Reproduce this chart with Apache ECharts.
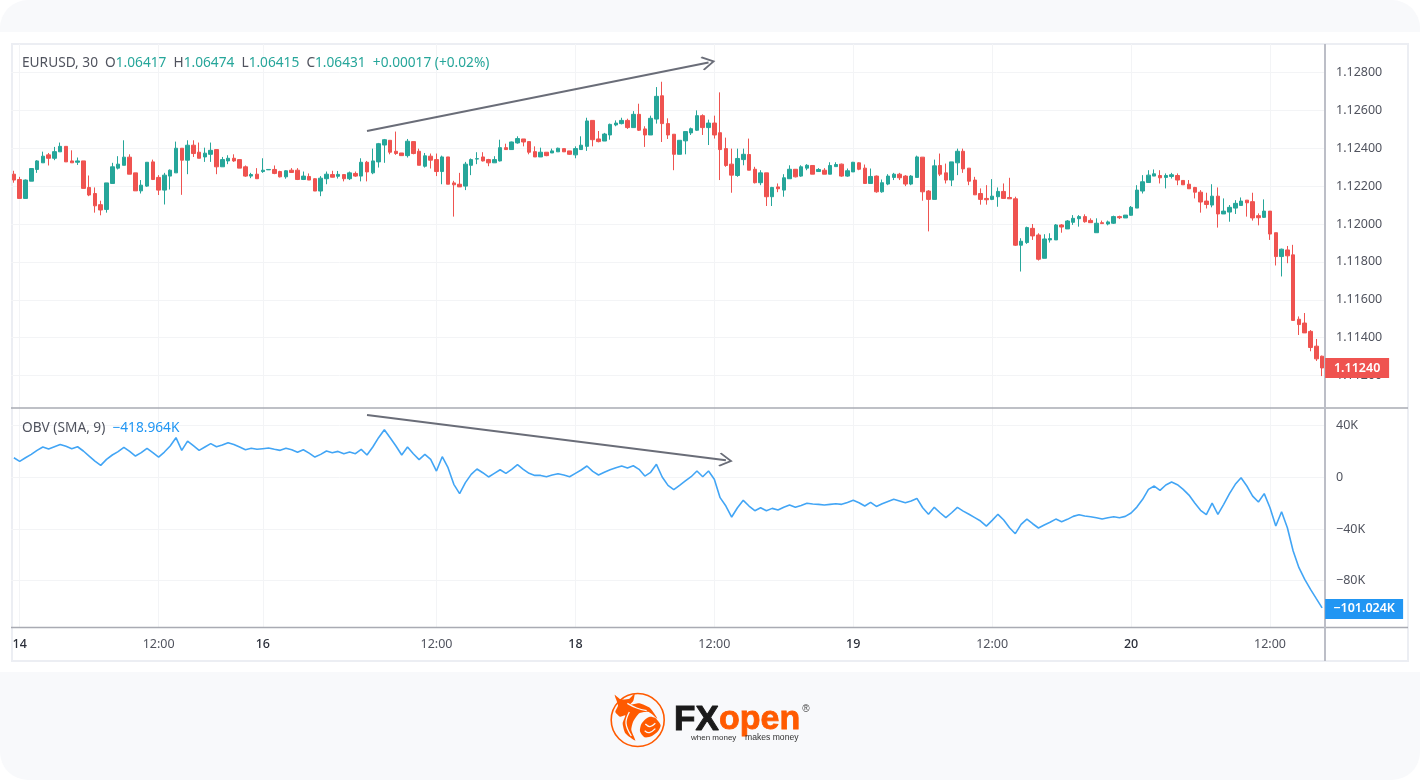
<!DOCTYPE html>
<html><head><meta charset="utf-8">
<style>html,body{margin:0;padding:0;background:#fff}#c{width:1420px;height:780px}</style>
<script src="https://cdn.jsdelivr.net/npm/echarts@6/dist/echarts.min.js"></script>
</head><body><div id="c"></div>
<script>
const tickPositions=[1,25,43,73,97,121,145,169,193,217];
const tickLabels=['14','12:00','16','12:00','18','12:00','19','12:00','20','12:00'];
const open=[1.12263,1.12235,1.12135,1.12226,1.12288,1.12323,1.12365,1.12347,1.12381,1.12410,
1.12333,1.12326,1.12333,1.12193,1.12161,1.12102,1.12077,1.12214,1.12295,1.12310,
1.12353,1.12270,1.12175,1.12200,1.12328,1.12246,1.12179,1.12253,1.12270,1.12400,
1.12337,1.12416,1.12379,1.12354,1.12368,1.12393,1.12302,1.12333,1.12347,1.12340,
1.12302,1.12253,1.12263,1.12277,1.12286,1.12288,1.12277,1.12249,1.12284,1.12284,
1.12235,1.12251,1.12239,1.12174,1.12239,1.12261,1.12252,1.12261,1.12239,1.12267,
1.12253,1.12326,1.12270,1.12328,1.12417,1.12442,1.12384,1.12375,1.12361,1.12435,
1.12384,1.12305,1.12358,1.12340,1.12277,1.12354,1.12217,1.12210,1.12200,1.12310,
1.12343,1.12354,1.12340,1.12323,1.12333,1.12403,1.12393,1.12428,1.12449,1.12435,
1.12382,1.12354,1.12379,1.12375,1.12381,1.12398,1.12386,1.12365,1.12393,1.12410,
1.12547,1.12449,1.12438,1.12470,1.12523,1.12530,1.12547,1.12509,1.12579,1.12502,
1.12470,1.12554,1.12677,1.12530,1.12474,1.12368,1.12439,1.12481,1.12495,1.12572,
1.12509,1.12533,1.12482,1.12398,1.12316,1.12256,1.12340,1.12367,1.12289,1.12218,
1.12270,1.12144,1.12196,1.12179,1.12239,1.12289,1.12253,1.12295,1.12309,1.12277,
1.12284,1.12263,1.12303,1.12316,1.12253,1.12275,1.12323,1.12295,1.12214,1.12253,
1.12170,1.12211,1.12246,1.12263,1.12253,1.12211,1.12246,1.12353,1.12174,1.12130,
1.12309,1.12270,1.12232,1.12323,1.12384,1.12295,1.12232,1.12161,1.12135,1.12130,
1.12144,1.12172,1.12140,1.12133,1.11888,1.11902,1.11977,1.11942,1.11819,1.11916,
1.11916,1.11995,1.11974,1.12009,1.12028,1.12039,1.12019,1.11954,1.12007,1.12000,
1.12004,1.12039,1.12032,1.12046,1.12084,1.12174,1.12219,1.12253,1.12256,1.12246,
1.12251,1.12256,1.12230,1.12210,1.12193,1.12168,1.12121,1.12100,1.12147,1.12053,
1.12063,1.12084,1.12098,1.12126,1.12118,1.12044,1.12035,1.12068,1.11954,1.11828,
1.11863,1.11837,1.11497,1.11477,1.11433,1.11355,1.11302];
const high=[1.12281,1.12249,1.12235,1.12293,1.12337,1.12382,1.12375,1.12407,1.12430,1.12410,
1.12389,1.12351,1.12333,1.12256,1.12193,1.12123,1.12217,1.12323,1.12358,1.12442,
1.12368,1.12270,1.12232,1.12326,1.12340,1.12258,1.12270,1.12288,1.12435,1.12400,
1.12442,1.12442,1.12430,1.12403,1.12430,1.12393,1.12354,1.12363,1.12368,1.12340,
1.12309,1.12270,1.12295,1.12347,1.12288,1.12309,1.12281,1.12284,1.12295,1.12295,
1.12277,1.12267,1.12242,1.12253,1.12277,1.12281,1.12280,1.12263,1.12277,1.12277,
1.12347,1.12333,1.12398,1.12428,1.12449,1.12442,1.12488,1.12375,1.12449,1.12435,
1.12398,1.12375,1.12372,1.12372,1.12361,1.12354,1.12228,1.12270,1.12328,1.12346,
1.12379,1.12379,1.12344,1.12358,1.12445,1.12424,1.12435,1.12463,1.12449,1.12435,
1.12410,1.12403,1.12379,1.12398,1.12403,1.12398,1.12386,1.12410,1.12463,1.12561,
1.12547,1.12491,1.12481,1.12530,1.12547,1.12561,1.12556,1.12596,1.12635,1.12516,
1.12572,1.12723,1.12751,1.12558,1.12474,1.12442,1.12488,1.12509,1.12600,1.12579,
1.12551,1.12572,1.12695,1.12456,1.12398,1.12398,1.12398,1.12451,1.12302,1.12284,
1.12270,1.12196,1.12214,1.12263,1.12310,1.12289,1.12310,1.12316,1.12309,1.12295,
1.12295,1.12326,1.12326,1.12319,1.12293,1.12328,1.12326,1.12314,1.12293,1.12256,
1.12235,1.12263,1.12270,1.12270,1.12258,1.12258,1.12361,1.12353,1.12179,1.12340,
1.12372,1.12319,1.12328,1.12398,1.12398,1.12295,1.12249,1.12188,1.12205,1.12237,
1.12193,1.12214,1.12244,1.12144,1.11925,1.11986,1.12000,1.11951,1.11946,1.11951,
1.12000,1.12000,1.12021,1.12047,1.12047,1.12051,1.12030,1.12030,1.12018,1.12018,
1.12044,1.12044,1.12047,1.12095,1.12205,1.12258,1.12284,1.12288,1.12284,1.12267,
1.12270,1.12267,1.12230,1.12232,1.12196,1.12179,1.12165,1.12210,1.12193,1.12135,
1.12100,1.12126,1.12140,1.12126,1.12165,1.12056,1.12130,1.12068,1.11954,1.11870,
1.11884,1.11890,1.11512,1.11530,1.11440,1.11393,1.11305];
const low=[1.12218,1.12135,1.12135,1.12226,1.12270,1.12323,1.12309,1.12337,1.12381,1.12328,
1.12323,1.12312,1.12188,1.12147,1.12060,1.12046,1.12060,1.12214,1.12288,1.12310,
1.12263,1.12175,1.12161,1.12196,1.12232,1.12153,1.12103,1.12182,1.12270,1.12154,
1.12263,1.12354,1.12347,1.12328,1.12328,1.12263,1.12302,1.12316,1.12328,1.12295,
1.12249,1.12242,1.12239,1.12270,1.12286,1.12263,1.12246,1.12239,1.12270,1.12232,
1.12232,1.12232,1.12174,1.12147,1.12210,1.12246,1.12240,1.12225,1.12232,1.12249,
1.12225,1.12225,1.12263,1.12298,1.12323,1.12368,1.12365,1.12361,1.12351,1.12368,
1.12310,1.12298,1.12293,1.12253,1.12210,1.12210,1.12039,1.12196,1.12179,1.12258,
1.12316,1.12330,1.12305,1.12323,1.12330,1.12393,1.12393,1.12424,1.12410,1.12368,
1.12354,1.12354,1.12358,1.12375,1.12381,1.12381,1.12365,1.12347,1.12393,1.12386,
1.12410,1.12431,1.12438,1.12445,1.12516,1.12526,1.12502,1.12509,1.12491,1.12407,
1.12470,1.12530,1.12433,1.12449,1.12284,1.12368,1.12368,1.12470,1.12491,1.12470,
1.12417,1.12451,1.12232,1.12302,1.12165,1.12249,1.12310,1.12284,1.12214,1.12205,
1.12095,1.12095,1.12168,1.12144,1.12239,1.12246,1.12249,1.12284,1.12263,1.12277,
1.12263,1.12263,1.12302,1.12249,1.12249,1.12275,1.12284,1.12214,1.12214,1.12165,
1.12165,1.12205,1.12232,1.12232,1.12200,1.12205,1.12246,1.12123,1.11961,1.12130,
1.12253,1.12214,1.12200,1.12258,1.12270,1.12205,1.12154,1.12102,1.12102,1.12126,
1.12091,1.12135,1.12133,1.11884,1.11749,1.11895,1.11916,1.11807,1.11819,1.11902,
1.11916,1.11954,1.11974,1.11995,1.11986,1.12007,1.12007,1.11954,1.12002,1.11993,
1.12000,1.12026,1.12032,1.12044,1.12084,1.12161,1.12219,1.12253,1.12214,1.12188,
1.12240,1.12205,1.12207,1.12186,1.12135,1.12060,1.12082,1.12088,1.11981,1.12053,
1.12012,1.12053,1.12098,1.12039,1.12018,1.11993,1.12032,1.11916,1.11781,1.11723,
1.11793,1.11491,1.11414,1.11425,1.11328,1.11277,1.11197];
const close=[1.12232,1.12135,1.12232,1.12293,1.12333,1.12358,1.12347,1.12382,1.12410,1.12328,
1.12323,1.12333,1.12188,1.12153,1.12096,1.12074,1.12217,1.12302,1.12316,1.12353,
1.12263,1.12175,1.12205,1.12326,1.12235,1.12179,1.12258,1.12284,1.12400,1.12337,
1.12416,1.12372,1.12347,1.12374,1.12389,1.12302,1.12340,1.12347,1.12333,1.12295,
1.12253,1.12261,1.12239,1.12284,1.12288,1.12267,1.12249,1.12281,1.12272,1.12235,
1.12253,1.12232,1.12174,1.12242,1.12263,1.12247,1.12262,1.12239,1.12270,1.12253,
1.12326,1.12275,1.12333,1.12424,1.12445,1.12379,1.12372,1.12361,1.12437,1.12372,
1.12310,1.12360,1.12337,1.12277,1.12354,1.12210,1.12207,1.12196,1.12316,1.12340,
1.12345,1.12333,1.12323,1.12340,1.12403,1.12393,1.12433,1.12451,1.12433,1.12379,
1.12354,1.12379,1.12361,1.12386,1.12400,1.12381,1.12368,1.12398,1.12416,1.12544,
1.12445,1.12435,1.12475,1.12526,1.12533,1.12547,1.12509,1.12579,1.12495,1.12470,
1.12558,1.12674,1.12530,1.12470,1.12368,1.12442,1.12488,1.12503,1.12572,1.12509,
1.12533,1.12470,1.12393,1.12309,1.12258,1.12346,1.12368,1.12284,1.12218,1.12270,
1.12144,1.12193,1.12186,1.12244,1.12289,1.12249,1.12302,1.12310,1.12263,1.12288,
1.12263,1.12309,1.12314,1.12253,1.12281,1.12326,1.12289,1.12214,1.12251,1.12170,
1.12218,1.12253,1.12263,1.12244,1.12211,1.12253,1.12354,1.12170,1.12130,1.12307,
1.12263,1.12232,1.12328,1.12384,1.12291,1.12226,1.12154,1.12130,1.12128,1.12147,
1.12172,1.12135,1.12133,1.11888,1.11909,1.11981,1.11937,1.11814,1.11921,1.11923,
1.11995,1.11984,1.12016,1.12030,1.12039,1.12012,1.12007,1.12004,1.12002,1.12011,
1.12039,1.12033,1.12047,1.12088,1.12179,1.12223,1.12258,1.12265,1.12244,1.12256,
1.12260,1.12232,1.12207,1.12186,1.12168,1.12116,1.12103,1.12147,1.12053,1.12068,
1.12088,1.12109,1.12121,1.12112,1.12032,1.12033,1.12068,1.11947,1.11828,1.11867,
1.11832,1.11491,1.11469,1.11425,1.11348,1.11288,1.11240];
const obv=[15.2,12.4,15.2,17.8,20.9,23.5,21.9,23.7,25.5,24,22.2,23.7,20.4,16.5,12.6,9.3,13.9,17.3,19.9,23.2,
20.1,16.5,19.1,22.5,19.1,15.7,19.6,24.3,30.7,20.9,28.1,24.5,20.9,23.5,26.1,23.7,25,26.8,25.5,23.5,
21.4,22.5,21.7,22.2,22.7,21.7,20.9,22.5,21.4,19.4,21.4,18.8,15.7,17.8,20.4,19.1,20.1,18.3,19.6,18.3,
21.7,17.3,23.5,30.7,36.9,30.7,24.3,17.3,23.5,18.3,13.7,17.8,13.9,4.9,16,7.5,-5.4,-12.6,-4.1,2.3,
6.5,3.6,0.3,3.1,5.9,3.1,6.2,9.8,6.2,3.1,1.5,1.5,0.5,1.8,2.8,1.8,0.5,3.1,5.7,8.8,
4.6,1.8,3.9,5.9,7.5,8.8,7.2,9,6.2,1,3.9,10.1,0.3,-6.2,-9.5,-6.2,-2.8,0.5,4.9,0.5,
4.9,-1.5,-15.7,-22.2,-30.7,-23.5,-17.8,-22.2,-25.8,-23.5,-25.8,-24,-25.3,-23.2,-21.4,-23.2,-21.7,-20.1,-20.6,-20.9,
-21.4,-20.9,-20.4,-20.9,-19.4,-17.8,-19.6,-22.2,-19.4,-22.5,-20.4,-18.6,-17,-18.3,-19.6,-18.3,-16.3,-23.5,-28.6,-23.2,
-27.4,-31.2,-27.4,-23.2,-26.1,-28.6,-31.2,-33.8,-37.7,-33.3,-28.6,-33,-39,-43.6,-36.4,-32.3,-35.9,-39.2,-36.9,-34.8,
-32.3,-34.3,-32.5,-30.2,-28.9,-29.9,-30.5,-31.2,-32.3,-31.2,-30.5,-31.2,-30.2,-27.6,-23,-17,-9.3,-6.7,-10.1,-5.9,
-3.6,-5.7,-9.3,-13.7,-19.9,-25.5,-28.9,-19.9,-28.6,-20.9,-12.6,-5.4,-0.3,-6.7,-14.5,-19.1,-12.6,-23.5,-37.7,-26.6,
-39,-57,-69.9,-79,-86.7,-93.9,-101.024];
const lastPrice=1.1124, lastObv=-101.024;
const priceArrow=[[61,1.12491],[120,1.12853]];
const obvArrow=[[61,48.3],[123,13.2]];

const font='"Noto Sans",sans-serif';
const GREEN='#26a69a',RED='#ef5350',BLUE='#42a5f5',GRID='#f3f4f6',TXT='#50535e',ARROW='#6a6d78';
const categories=close.map((_,i)=>{const k=tickPositions.indexOf(i);return k>=0?tickLabels[k]:String(i)});
const isTick=i=>tickPositions.includes(i);
const candle=open.map((o,i)=>[o,close[i],low[i],high[i]]);
const chev='path://M0,10 L10,0 L20,10 L18.4,11.4 L10,3 L1.6,11.4 Z';
function arrow(a){return {silent:true,symbol:['none',chev],symbolSize:14,label:{show:false},
  lineStyle:{color:ARROW,width:2,type:'solid'},animation:false,
  data:[[{coord:a[0]},{coord:a[1]}]]}}
function badge(c,off,w,text,color){return {silent:true,animation:false,data:[{coord:c,symbol:'rect',symbolSize:[w,20],symbolOffset:off,
  itemStyle:{color},label:{show:true,formatter:text,color:'#fff',fontSize:12.5,fontWeight:600,fontFamily:font}}]}}
const hideX={show:false};
const xBase={type:'category',data:categories,boundaryGap:true};
const chart=echarts.init(document.getElementById('c'),null,{renderer:'canvas'});
const logoOrange='#ff5a00';
const zp=p=>p.map(([x,y])=>[590+x/3,680+y/3]);
const logoBlob=(pts,smooth,fill)=>({type:'polygon',silent:true,shape:{smooth,points:zp(pts)},style:{fill}});
const logoStroke=(pts)=>({type:'polyline',silent:true,shape:{smooth:0.4,points:zp(pts)},style:{fill:'none',stroke:'#f8f9fb',lineWidth:1.3}});
chart.setOption({
  animation:false,backgroundColor:'#fff',
  grid:[
    {left:11,width:1314,top:34.6,height:378.8},
    {left:11,width:1314,top:374,height:258.4},
    {left:11,width:1314,top:44,height:583.5}
  ],
  xAxis:[
    {...xBase,gridIndex:0,...hideX},
    {...xBase,gridIndex:1,...hideX},
    {...xBase,gridIndex:2,axisLine:{show:false},axisTick:{show:false},
     splitLine:{show:true,alignWithLabel:true,interval:i=>isTick(i),lineStyle:{color:GRID,width:1}},
     axisLabel:{interval:i=>isTick(i),margin:10,hideOverlap:false,fontFamily:font,fontSize:12.5,color:TXT,
       formatter:v=>v==='12:00'?'{t|12:00}':'{d|'+v+'}',
       rich:{t:{color:TXT,fontSize:12.5,fontFamily:font},d:{color:'#2a2e39',fontSize:12.5,fontWeight:500,fontFamily:font}}}}
  ],
  yAxis:[
    {type:'value',gridIndex:0,position:'right',min:1.11,max:1.13,interval:0.002,scale:true,
     axisLine:{show:false},axisTick:{show:false},
     axisLabel:{margin:11,color:TXT,fontSize:12.5,fontFamily:font,showMinLabel:false,showMaxLabel:false,formatter:v=>v.toFixed(5)},
     splitLine:{show:true,showMinLine:false,showMaxLine:false,lineStyle:{color:GRID,width:1}}},
    {type:'value',gridIndex:1,position:'right',min:-120,max:80,interval:40,
     axisLine:{show:false},axisTick:{show:false},
     axisLabel:{margin:11,color:TXT,fontSize:12.5,fontFamily:font,showMinLabel:false,showMaxLabel:false,
       formatter:v=>v===0?'0':(v<0?'\u2212':'')+Math.abs(v)+'K'},
     splitLine:{show:true,showMinLine:false,showMaxLine:false,lineStyle:{color:GRID,width:1}}},
    {type:'value',gridIndex:2,show:false,min:0,max:1}
  ],
  series:[
    {type:'candlestick',name:'EURUSD',xAxisIndex:0,yAxisIndex:0,data:candle,barWidth:4,clip:false,
     itemStyle:{color:GREEN,color0:RED,borderColor:GREEN,borderColor0:RED,borderColorDoji:GREEN,borderWidth:1},
     markLine:arrow(priceArrow),
     markPoint:badge([226,lastPrice],[35,0],64,'1.11240',RED)},
    {type:'line',name:'OBV',xAxisIndex:1,yAxisIndex:1,data:obv,showSymbol:false,symbol:'none',clip:false,
     lineStyle:{color:BLUE,width:1.6},itemStyle:{color:BLUE},
     markLine:arrow(obvArrow),
     markPoint:badge([226,lastObv],[42,1],78,'\u2212101.024K','#2196f3')}
  ],
  graphic:{elements:[
    {type:'rect',z:-10,silent:true,shape:{x:0,y:0,width:1420,height:32,r:[28,28,0,0]},style:{fill:'#f8f9fb'}},
    {type:'rect',z:-10,silent:true,shape:{x:0,y:672,width:1420,height:108,r:[0,0,28,28]},style:{fill:'#f8f9fb'}},
    {type:'rect',z:-9,silent:true,shape:{x:12,y:44,width:1396,height:617},style:{fill:'none',stroke:'#eceef3',lineWidth:2}},
    {type:'line',z:1,silent:true,shape:{x1:11,y1:408,x2:1408,y2:408},style:{stroke:'#a9abb3',lineWidth:1.5}},
    {type:'line',z:1,silent:true,shape:{x1:11,y1:627.5,x2:1408,y2:627.5},style:{stroke:'#a9abb3',lineWidth:1.5}},
    {type:'line',z:1,silent:true,shape:{x1:1325,y1:44,x2:1325,y2:661},style:{stroke:'#bcbec7',lineWidth:2}},
    {type:'text',z:5,silent:true,x:22,y:63,style:{fontFamily:font,fontSize:13.7,verticalAlign:'middle',
      text:'{k|EURUSD, 30  O}{g|1.06417}{k|  H}{g|1.06474}{k|  L}{g|1.06415}{k|  C}{g|1.06431}{g|  +0.00017 (+0.02%)}',
      rich:{k:{fill:'#50535e',fontFamily:font,fontSize:13.7},g:{fill:GREEN,fontFamily:font,fontSize:13.7}}}},
    {type:'text',z:5,silent:true,x:22,y:428,style:{fontFamily:font,fontSize:13.7,verticalAlign:'middle',
      text:'{k|OBV (SMA, 9)}{b|  \u2212418.964K}',
      rich:{k:{fill:'#50535e',fontFamily:font,fontSize:13.7},b:{fill:'#2196f3',fontFamily:font,fontSize:13.7}}}},
    // FXopen logo
    {type:'circle',silent:true,shape:{cx:637.7,cy:720,r:26.5},style:{fill:'none',stroke:logoOrange,lineWidth:1.6}},
    logoBlob([[74,44],[92,58],[118,56],[134,40],[130,62],[120,74],[148,70],[180,84],[202,116],[176,96],[148,100],[130,124],[124,150],[136,182],[106,160],[98,130],[106,106],[90,110],[76,96],[84,76]],0.2,logoOrange),
    logoBlob([[168,116],[180,110],[196,114],[212,136],[204,154],[186,168],[164,172],[150,154],[154,132]],0.25,logoOrange),
    logoStroke([[112,70],[140,84],[170,92]]),
    logoStroke([[118,96],[108,130],[124,168]]),
    logoStroke([[166,132],[180,140],[196,130]]),
    logoStroke([[164,152],[178,158],[196,146]]),
    {type:'text',silent:true,x:674,y:720,style:{text:'FX',fontFamily:'"Liberation Sans"',fontWeight:'bold',fontSize:35,fill:'#1a1a1a',stroke:'#1a1a1a',lineWidth:1,verticalAlign:'middle'}},
    {type:'text',silent:true,x:719,y:720,style:{text:'open',fontFamily:'"Liberation Sans"',fontWeight:'bold',fontSize:34,fill:logoOrange,stroke:logoOrange,lineWidth:0.8,verticalAlign:'middle'}},
    {type:'text',silent:true,x:806,y:709,style:{text:'\u00ae',fontFamily:'"Liberation Sans"',fontSize:10,fill:'#444',align:'center',verticalAlign:'middle'}},
    {type:'text',silent:true,x:691,y:738,style:{text:'when money',fontFamily:'"Liberation Sans"',fontSize:8,fill:'#333',verticalAlign:'middle'}},
    {type:'text',silent:true,x:745,y:738,style:{text:'makes money',fontFamily:'"Liberation Sans"',fontSize:8.6,fill:'#333',verticalAlign:'middle'}}
  ]}
});
</script></body></html>
